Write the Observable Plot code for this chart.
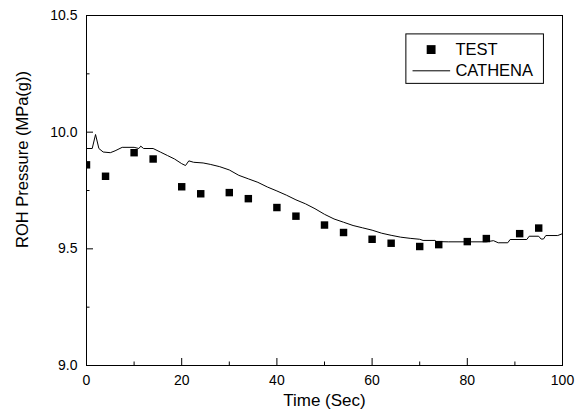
<!DOCTYPE html>
<html><head><meta charset="utf-8">
<script src="https://cdn.jsdelivr.net/npm/d3@7"></script>
<script src="https://cdn.jsdelivr.net/npm/@observablehq/plot@0.6"></script>
<style>
body{margin:0;background:#fff}
svg{font-family:"Liberation Sans",Arial,sans-serif}
</style>
</head><body><div id="chart"></div>
<script>
// ---- data ----
const testTime = [0,4,10,14,20,24,30,34,40,44,50,54,60,64,70,74,80,84,91,95];
const testPressure = [9.860,9.811,9.912,9.885,9.766,9.736,9.741,9.715,9.677,9.640,9.602,9.570,9.541,9.524,9.510,9.518,9.531,9.544,9.565,9.589];
const cathenaTime = [0,1.2,1.9,2.6,3.5,5,6,7.5,10,11,11.4,12,14,15.5,17,18.5,20,20.8,21.5,22.5,24.5,26,28,30,32,34,36,38,40,42,44,46,48,50,52,54,56,58,60,62,64,66,68,70,70.7,73.2,73.5,76,80,84,85.5,86.5,88.5,89,92.5,93,95,95.5,96,96.5,99,100];
const cathenaPressure = [9.93,9.93,9.99,9.93,9.915,9.912,9.92,9.935,9.935,9.93,9.94,9.93,9.93,9.915,9.9,9.885,9.865,9.857,9.877,9.871,9.868,9.862,9.852,9.838,9.815,9.8,9.785,9.765,9.748,9.73,9.71,9.693,9.672,9.648,9.628,9.614,9.6,9.59,9.58,9.567,9.558,9.55,9.545,9.541,9.536,9.536,9.531,9.53,9.53,9.53,9.535,9.526,9.526,9.54,9.54,9.554,9.554,9.542,9.542,9.557,9.557,9.565];
const xTicks = [0,20,40,60,80,100];
const xMinorTicks = [10,30,50,70,90];
const yTicks = [9.0,9.5,10.0,10.5];
const yMinorTicks = [9.25,9.75,10.25];
const seriesNames = ["TEST","CATHENA"];
const xTitle = "Time (Sec)";
const yTitle = "ROH Pressure (MPa(g))";

// ---- tables ----
const test = testTime.map((t,i)=>({t, p: testPressure[i]}));
const cathena = cathenaTime.map((t,i)=>({t, p: cathenaPressure[i]}));

// ---- layout (data units for legend placement) ----
const xDom = [0,100], yDom = [9.0,10.5];
const W = 584, H = 417, mL = 86, mR = 22, mT = 15, mB = 52;
const pxX = (100)/(W-mL-mR), pxY = 1.5/(H-mT-mB);
const majorLenY = 7*pxY, minorLenY = 3.5*pxY, majorLenX = 7*pxX, minorLenX = 3.5*pxX;
const lg = {x1: 67.2, x2: 96.1, y1: 10.207, y2: 10.419, markX: 72.4, textX: 77.5, row1: 10.354, row2: 10.263, lineX1: 68.6, lineX2: 76.5};

const chart = Plot.plot({
  width: W, height: H,
  marginLeft: mL, marginRight: mR, marginTop: mT, marginBottom: mB,
  style: {fontFamily: '"Liberation Sans", Arial, sans-serif', fontSize: "14px", color: "black", background: "white"},
  x: {domain: xDom},
  y: {domain: yDom},
  marks: [
    Plot.line(cathena, {x: "t", y: "p", stroke: "black", strokeWidth: 1, clip: true}),
    Plot.dot(test, {x: "t", y: "p", symbol: "square", r: 4.2, fill: "black", stroke: "none", clip: true}),
    // inward ticks
    Plot.ruleX(xTicks, {x: d=>d, y1: yDom[0], y2: yDom[0]+majorLenY, stroke: "black"}),
    Plot.ruleX(xMinorTicks, {x: d=>d, y1: yDom[0], y2: yDom[0]+minorLenY, stroke: "black"}),
    Plot.ruleY(yTicks, {y: d=>d, x1: xDom[0], x2: xDom[0]+majorLenX, stroke: "black"}),
    Plot.ruleY(yMinorTicks, {y: d=>d, x1: xDom[0], x2: xDom[0]+minorLenX, stroke: "black"}),
    Plot.axisX(xTicks, {tickSize: 0, tickPadding: 10, label: null, fontSize: 14}),
    Plot.axisY(yTicks, {tickSize: 0, tickPadding: 9, label: null, tickFormat: d3.format(".1f"), fontSize: 14}),
    Plot.frame({stroke: "black"}),
    // titles
    Plot.text([xTitle], {text: d=>d, frameAnchor: "bottom", dy: 35, fontSize: 17, lineAnchor: "middle"}),
    Plot.text([yTitle], {text: d=>d, frameAnchor: "left", dx: -64, dy: -31, rotate: -90, fontSize: 16.5, lineAnchor: "middle", textAnchor: "middle"}),
    // legend
    Plot.rect([0], {x1: lg.x1, x2: lg.x2, y1: lg.y1, y2: lg.y2, fill: "white", stroke: "black"}),
    Plot.dot([0], {x: lg.markX, y: lg.row1, symbol: "square", r: 5, fill: "black", stroke: "none"}),
    Plot.ruleY([0], {y: lg.row2, x1: lg.lineX1, x2: lg.lineX2, stroke: "black"}),
    Plot.text([seriesNames[0]], {text: d=>d, x: lg.textX, y: lg.row1, textAnchor: "start", fontSize: 16.5}),
    Plot.text([seriesNames[1]], {text: d=>d, x: lg.textX, y: lg.row2, textAnchor: "start", fontSize: 16.5})
  ]
});
document.getElementById("chart").appendChild(chart);
</script>
</body></html>
